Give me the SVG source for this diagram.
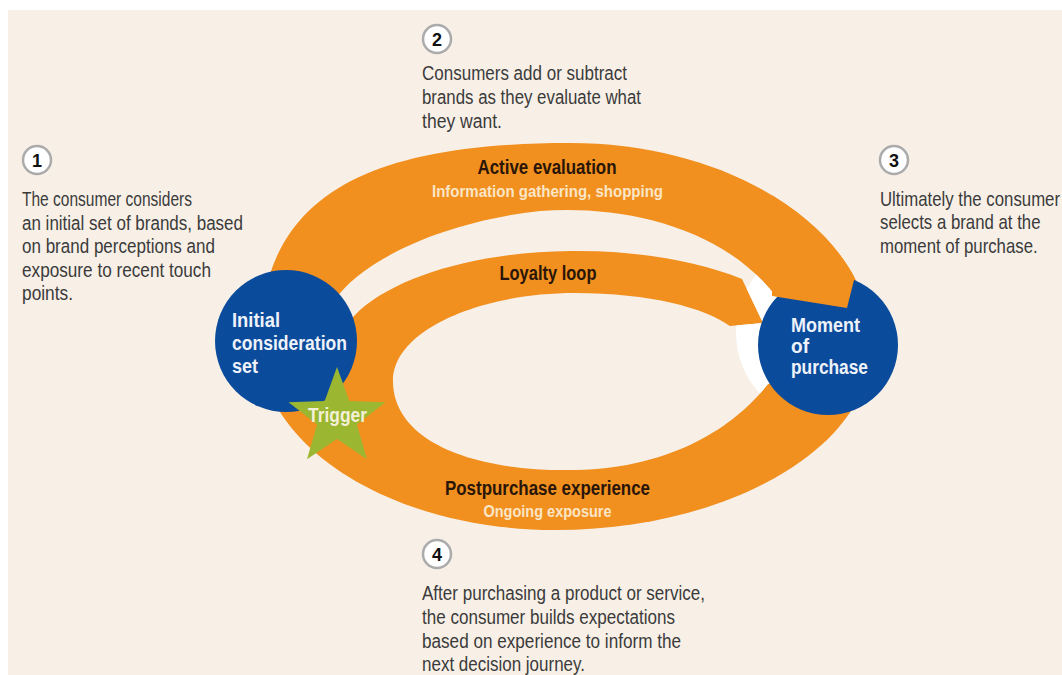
<svg xmlns="http://www.w3.org/2000/svg" width="1062" height="675" viewBox="0 0 1062 675">
<style>
.body{font-family:"Liberation Sans",Arial,sans-serif;font-size:20px;fill:#3b3b3b;}
.lbl{font-family:"Liberation Sans",Arial,sans-serif;font-weight:bold;font-size:20px;fill:#2a1608;text-anchor:middle;}
.sub{font-family:"Liberation Sans",Arial,sans-serif;font-weight:bold;font-size:16px;fill:#fbe6c6;text-anchor:middle;}
.ctext{font-family:"Liberation Sans",Arial,sans-serif;font-weight:bold;font-size:20px;fill:#eef2fa;}
.num circle{fill:#ffffff;stroke:#ababab;stroke-width:2.5;}
.num text{font-family:"Liberation Sans",Arial,sans-serif;font-weight:bold;font-size:18px;fill:#111111;text-anchor:middle;}
.orange{fill:#f18f1f;}
.cream{fill:#f8f0e7;}
.blue{fill:#0b4b9b;}
</style>
<defs>
<path id="outerPath" d="M570,143 C736,143 872,234 872,345 C872,447 729,530 555,530 C393,530 260,447 260,345 C260,204 353,143 570,143 Z"/>
<path id="gapPath" d="M335,300 C360,262 440,222 540,211 C620,205 720,225 775,295 L805,300 L763,323 L742,279 C700,262 640,250 570,251 C480,252 400,275 360,310 L340,330 Z"/>
<path id="holePath" d="M393,381 C393,330 480,293 575,293 C650,293 705,308 730,326 L763,323 L800,335 L795,378 L768,384 C740,420 680,468 575,470 C470,472 393,440 393,381 Z"/>
<clipPath id="openClip"><use href="#gapPath"/><use href="#holePath"/></clipPath>
<clipPath id="outerClip"><use href="#outerPath"/></clipPath>
</defs>
<rect x="0" y="0" width="1062" height="675" fill="#ffffff"/>
<rect x="8" y="10" width="1054" height="665" class="cream"/>

<g id="connectors">
<use href="#outerPath" class="orange"/>
<use href="#gapPath" class="cream"/>
<use href="#holePath" class="cream"/>
<circle cx="828" cy="332" r="92" fill="#ffffff" clip-path="url(#openClip)"/>
</g>

<g id="initial-consideration-set">
<circle cx="286" cy="341" r="71" class="blue"/>
<text class="ctext" x="232" y="327" textLength="48" lengthAdjust="spacingAndGlyphs">Initial</text>
<text class="ctext" x="232" y="350" textLength="115" lengthAdjust="spacingAndGlyphs">consideration</text>
<text class="ctext" x="232" y="373" textLength="26" lengthAdjust="spacingAndGlyphs">set</text>
</g>

<g id="moment-of-purchase">
<circle cx="828" cy="345" r="70" class="blue"/>
<polygon class="orange" clip-path="url(#outerClip)" points="772,296 847,308 856,272 862,190 772,190"/>
<text class="ctext" x="791" y="331.5" textLength="69" lengthAdjust="spacingAndGlyphs">Moment</text>
<text class="ctext" x="791" y="353" textLength="18" lengthAdjust="spacingAndGlyphs">of</text>
<text class="ctext" x="791" y="374" textLength="77" lengthAdjust="spacingAndGlyphs">purchase</text>
</g>

<g id="trigger">
<polygon fill="#9bb630" points="337,367 349.3,401 385.5,402.2 356.9,424.4 367,459.3 337,439 307,459.3 317.1,424.4 288.5,402.2 324.7,401"/>
<text class="ctext" x="337.5" y="421.5" text-anchor="middle" textLength="59" lengthAdjust="spacingAndGlyphs" style="fill:#f4f0d8">Trigger</text>
</g>

<g id="active-evaluation">
<text class="lbl" x="547" y="174" textLength="139" lengthAdjust="spacingAndGlyphs">Active evaluation</text>
<text class="sub" x="547.5" y="196.5" textLength="231" lengthAdjust="spacingAndGlyphs">Information gathering, shopping</text>
</g>

<g id="loyalty-loop">
<text class="lbl" x="548" y="280" textLength="97" lengthAdjust="spacingAndGlyphs">Loyalty loop</text>
</g>

<g id="postpurchase-experience">
<text class="lbl" x="547.5" y="495" textLength="205" lengthAdjust="spacingAndGlyphs">Postpurchase experience</text>
<text class="sub" x="547.5" y="516.5" textLength="128" lengthAdjust="spacingAndGlyphs">Ongoing exposure</text>
</g>

<g id="step-1">
<g class="num"><circle cx="37" cy="160" r="14"/><text x="37" y="166.5">1</text></g>
<text class="body" x="22" y="206" textLength="170" lengthAdjust="spacingAndGlyphs">The consumer considers</text>
<text class="body" x="22" y="229.5" textLength="221" lengthAdjust="spacingAndGlyphs">an initial set of brands, based</text>
<text class="body" x="22" y="253" textLength="193" lengthAdjust="spacingAndGlyphs">on brand perceptions and</text>
<text class="body" x="22" y="276.5" textLength="189" lengthAdjust="spacingAndGlyphs">exposure to recent touch</text>
<text class="body" x="22" y="300" textLength="51" lengthAdjust="spacingAndGlyphs">points.</text>
</g>

<g id="step-2">
<g class="num"><circle cx="437" cy="39" r="14"/><text x="437" y="45.5">2</text></g>
<text class="body" x="422" y="80" textLength="205" lengthAdjust="spacingAndGlyphs">Consumers add or subtract</text>
<text class="body" x="422" y="104" textLength="219" lengthAdjust="spacingAndGlyphs">brands as they evaluate what</text>
<text class="body" x="422" y="128" textLength="80" lengthAdjust="spacingAndGlyphs">they want.</text>
</g>

<g id="step-3">
<g class="num"><circle cx="894" cy="160" r="14"/><text x="894" y="166.5">3</text></g>
<g transform="translate(880,0) scale(0.84,1)">
<text class="body" x="0" y="206">Ultimately the consumer</text>
<text class="body" x="0" y="229.5">selects a brand at the</text>
<text class="body" x="0" y="253">moment of purchase.</text>
</g>
</g>

<g id="step-4">
<g class="num"><circle cx="437" cy="554" r="14"/><text x="437" y="560.5">4</text></g>
<text class="body" x="422" y="600" textLength="283" lengthAdjust="spacingAndGlyphs">After purchasing a product or service,</text>
<text class="body" x="422" y="624" textLength="253" lengthAdjust="spacingAndGlyphs">the consumer builds expectations</text>
<text class="body" x="422" y="647.5" textLength="259" lengthAdjust="spacingAndGlyphs">based on experience to inform the</text>
<text class="body" x="422" y="671" textLength="163" lengthAdjust="spacingAndGlyphs">next decision journey.</text>
</g>
</svg>
